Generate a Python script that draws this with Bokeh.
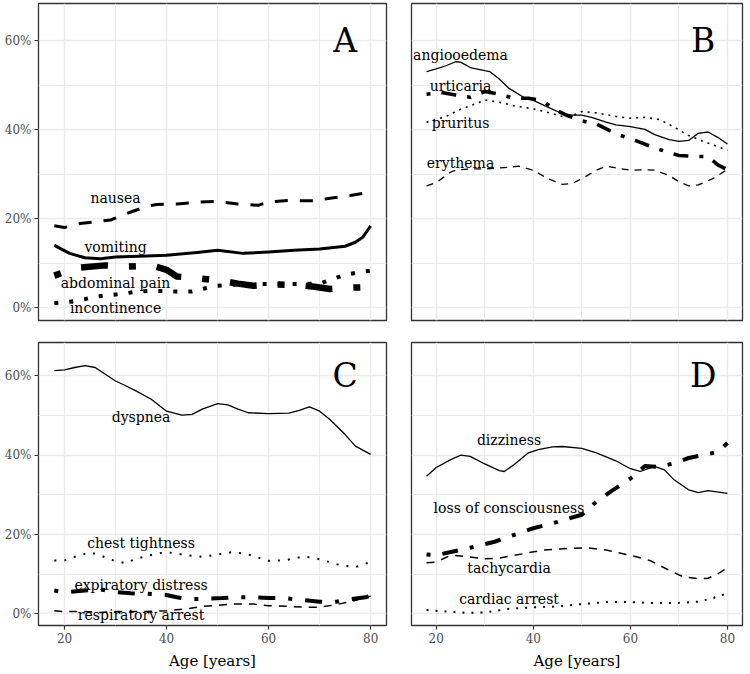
from bokeh.plotting import figure
from bokeh.layouts import gridplot
from bokeh.models import FixedTicker, Range1d
from bokeh.core.properties import value
from bokeh.embed import file_html
from bokeh.resources import INLINE

# ---------------- data ----------------
x_ticks = [20, 40, 60, 80]
x_minor = [10, 30, 50, 70, 90]
x_tick_labels = ["20", "40", "60", "80"]
y_ticks = [0, 20, 40, 60]
y_minor = [10, 30, 50]
y_tick_labels = ["0%", "20%", "40%", "60%"]
x_title = "Age [years]"
panel_letters = ["A", "B", "C", "D"]

# Panel A
nausea_age = [18, 20, 23, 26, 29, 31, 33, 36, 38, 42, 46, 50, 54, 58, 60, 64, 69, 72, 76, 79, 80]
nausea_pct = [18.4, 18.0, 18.9, 19.3, 19.7, 20.6, 21.5, 22.7, 23.2, 23.3, 23.7, 23.9, 23.3, 23.0, 23.8, 24.1, 24.0, 24.6, 25.2, 25.8, 26.6]
vomiting_age = [18, 21, 24, 27, 30, 36, 40, 46, 50, 55, 60, 65, 70, 75, 77, 78.5, 80]
vomiting_pct = [14.0, 12.2, 11.2, 11.0, 11.4, 11.6, 11.8, 12.4, 12.9, 12.2, 12.5, 12.9, 13.2, 13.8, 14.7, 15.9, 18.4]
abdominal_age = [18, 21, 23, 28, 32, 37, 40, 42, 46, 51, 54, 57, 61, 66, 69, 72, 76, 80]
abdominal_pct = [7.2, 8.4, 9.0, 9.5, 9.2, 9.5, 8.5, 7.0, 6.6, 6.0, 5.4, 4.9, 5.2, 5.1, 4.7, 4.2, 4.5, 4.6]
incontinence_age = [18, 21, 24, 26, 29, 32, 34, 37, 42, 45, 47, 50, 55, 60, 65, 70, 73, 75, 78, 80]
incontinence_pct = [1.0, 1.3, 1.9, 2.5, 2.8, 3.2, 3.6, 3.8, 3.6, 3.6, 4.2, 4.9, 5.3, 5.3, 5.3, 5.4, 6.6, 7.4, 8.0, 8.3]

# Panel B
angio_age = [18, 20, 22, 24, 25, 27, 30, 31, 33, 35, 38, 40, 43, 46, 48, 50, 52, 55, 57, 60, 63, 65, 68, 70, 72, 74, 76, 78, 80]
angio_pct = [53.1, 53.7, 54.4, 55.3, 55.2, 54.0, 53.3, 53.1, 51.4, 49.3, 47.3, 46.6, 45.1, 43.6, 43.3, 43.3, 42.8, 41.7, 41.1, 40.7, 40.1, 38.9, 37.8, 37.4, 37.6, 39.2, 39.5, 38.3, 36.8]
urticaria_age = [18, 21, 24, 27, 30, 33, 36, 39, 42, 44, 47, 50, 53, 57, 61, 65, 70, 74, 76, 78, 80]
urticaria_pct = [48.0, 48.4, 47.8, 47.3, 48.6, 48.0, 47.1, 47.1, 46.5, 44.8, 43.2, 42.0, 41.3, 39.1, 37.6, 35.9, 34.2, 34.0, 34.0, 32.1, 31.0]
pruritus_age = [18, 22, 25, 28, 30, 33, 36, 40, 43, 46, 48, 50, 53, 57, 60, 63, 66, 69, 72, 75, 80]
pruritus_pct = [41.7, 43.0, 44.6, 45.8, 46.7, 46.2, 45.4, 44.7, 43.9, 43.0, 43.2, 44.1, 43.8, 43.0, 42.6, 42.8, 42.3, 40.6, 38.7, 37.4, 35.4]
erythema_age = [18, 20, 23, 24, 27, 30, 33, 37, 40, 43, 46, 48, 50, 53, 55, 57, 60, 63, 65, 68, 70, 72, 74, 77, 80]
erythema_pct = [27.4, 28.1, 30.5, 30.9, 31.2, 31.2, 31.4, 31.8, 30.9, 29.0, 27.7, 27.9, 29.0, 30.9, 31.8, 31.4, 30.9, 31.0, 30.9, 29.7, 28.3, 27.4, 27.6, 29.0, 31.1]

# Panel C
dyspnea_age = [18, 20, 22, 24, 26, 28, 30, 32, 34, 37, 40, 43, 45, 47, 50, 52, 54, 56, 60, 64, 66, 68, 70, 72, 75, 77, 80]
dyspnea_pct = [61.3, 61.5, 62.1, 62.6, 62.1, 60.4, 58.7, 57.5, 56.2, 54.1, 51.1, 50.1, 50.3, 51.6, 53.0, 52.7, 51.6, 50.7, 50.5, 50.6, 51.3, 52.2, 51.1, 49.0, 45.2, 42.3, 40.2]
chest_age = [18, 20, 22, 25, 27, 29, 32, 34, 38, 40, 44, 47, 53, 56, 60, 63, 67, 70, 74, 77, 80]
chest_pct = [13.5, 13.5, 14.4, 15.5, 14.8, 13.7, 12.8, 13.9, 15.2, 15.6, 14.8, 14.4, 15.6, 15.0, 13.4, 13.5, 14.5, 13.8, 12.3, 11.8, 13.1]
expir_age = [18, 20, 24, 27, 30, 33, 36, 40, 42, 44, 47, 51, 53, 57, 60, 63, 66, 70, 73, 75, 79, 80]
expir_pct = [5.9, 5.5, 5.9, 6.2, 5.5, 5.2, 5.1, 4.8, 4.2, 3.8, 3.8, 4.0, 4.2, 4.2, 4.0, 4.0, 3.6, 3.1, 3.0, 3.6, 4.2, 4.6]
resp_age = [18, 20, 24, 27, 30, 34, 40, 44, 47, 53, 57, 60, 64, 68, 70, 73, 76, 80]
resp_pct = [0.8, 0.6, 0.6, 0.4, 0.6, 0.6, 0.8, 1.3, 1.9, 2.5, 2.5, 2.1, 1.9, 1.7, 1.7, 2.3, 3.1, 4.5]

# Panel D
dizzy_age = [18, 20, 23, 25, 27, 30, 33, 34, 36, 39, 41, 44, 46, 50, 53, 57, 60, 62, 65, 67, 69, 72, 74, 76, 80]
dizzy_pct = [34.7, 36.9, 38.9, 40.0, 39.7, 37.8, 36.1, 35.9, 37.6, 40.6, 41.4, 42.1, 42.2, 41.7, 40.6, 38.6, 36.6, 35.9, 37.2, 36.3, 33.8, 31.3, 30.6, 31.1, 30.4]
loc_age = [18, 20, 23, 27, 32, 36, 40, 45, 48, 50, 53, 56, 60, 63, 66, 69, 72, 78, 80]
loc_pct = [15.0, 14.8, 15.6, 16.7, 18.2, 19.9, 21.6, 23.2, 24.3, 25.0, 28.3, 30.9, 34.1, 37.3, 37.0, 38.0, 39.3, 40.8, 43.1]
tachy_age = [18, 20, 23, 26, 30, 33, 38, 42, 47, 51, 55, 60, 64, 68, 71, 74, 76, 78, 80]
tachy_pct = [12.9, 13.1, 14.8, 14.5, 13.9, 14.1, 15.2, 16.1, 16.5, 16.7, 16.1, 14.8, 13.5, 11.0, 9.3, 8.9, 9.0, 10.1, 11.6]
cardiac_age = [18, 20, 26, 30, 35, 40, 45, 50, 55, 60, 64, 70, 74, 77, 80]
cardiac_pct = [1.0, 0.8, 0.3, 0.4, 1.3, 1.7, 1.9, 2.5, 3.0, 3.0, 2.8, 2.8, 3.1, 4.0, 5.2]

# label texts and their (age, percent) anchors
labels_A = ["nausea", "vomiting", "abdominal pain", "incontinence"]
labels_A_x = [30, 30, 30, 30]
labels_A_y = [24.6, 13.6, 5.6, 0.0]
labels_B = ["angiooedema", "urticaria", "pruritus", "erythema"]
labels_B_x = [25, 25, 25, 25]
labels_B_y = [56.8, 49.8, 41.6, 32.6]
labels_C = ["dyspnea", "chest tightness", "expiratory distress", "respiratory arrest"]
labels_C_x = [35, 35, 35, 35]
labels_C_y = [49.6, 17.8, 7.4, -0.3]
labels_D = ["dizziness", "loss of consciousness", "tachycardia", "cardiac arrest"]
labels_D_x = [35, 35, 35, 35]
labels_D_y = [43.9, 26.6, 11.7, 3.8]
letter_x = 75
letter_y = 60

# ---------------- styling ----------------
SERIF = "DejaVu Serif"
X_RANGE = (14.9, 83.1)
Y_RANGE = (-2.9, 68.4)


def make_panel(series, lab_x, lab_y, lab_t, letter, show_x, show_y,
               fw, fh, bl, br, bt, bb):
    p = figure(frame_width=fw, frame_height=fh,
               x_range=Range1d(*X_RANGE), y_range=Range1d(*Y_RANGE),
               output_backend="svg", toolbar_location=None,
               x_axis_location="below" if show_x else None,
               y_axis_location="left" if show_y else None,
               min_border_left=bl, min_border_right=br,
               min_border_top=bt, min_border_bottom=bb)
    p.background_fill_color = "white"
    p.border_fill_color = "white"
    p.outline_line_color = "#333333"
    p.outline_line_width = 1.3

    p.xgrid.ticker = FixedTicker(ticks=x_ticks, minor_ticks=x_minor)
    p.ygrid.ticker = FixedTicker(ticks=y_ticks, minor_ticks=y_minor)
    for g in (p.xgrid, p.ygrid):
        g.grid_line_color = "#EBEBEB"
        g.grid_line_width = 1.5
        g.minor_grid_line_color = "#EBEBEB"
        g.minor_grid_line_width = 1.0

    axes = []
    if show_x:
        ax = p.xaxis[0]
        ax.ticker = FixedTicker(ticks=x_ticks)
        ax.major_label_overrides = {t: l for t, l in zip(x_ticks, x_tick_labels)}
        ax.axis_label = x_title
        ax.axis_label_text_font = SERIF
        ax.axis_label_text_font_size = "15px"
        ax.axis_label_text_font_style = "normal"
        ax.axis_label_text_color = "black"
        ax.axis_label_standoff = 6
        axes.append(ax)
    if show_y:
        ay = p.yaxis[0]
        ay.ticker = FixedTicker(ticks=y_ticks)
        ay.major_label_overrides = {t: l for t, l in zip(y_ticks, y_tick_labels)}
        axes.append(ay)
    for a in axes:
        a.axis_line_color = None
        a.major_tick_line_color = "#333333"
        a.major_tick_line_width = 1.2
        a.major_tick_out = 4
        a.major_tick_in = 0
        a.minor_tick_line_color = None
        a.major_label_text_font = SERIF
        a.major_label_text_font_size = "12px"
        a.major_label_text_color = "#4D4D4D"
        a.major_label_standoff = 3

    for ages, pcts, w, dash in series:
        p.line(ages, pcts, line_color="black", line_width=w, line_dash=dash,
               line_join="round", line_cap="butt")

    p.text(x=lab_x, y=lab_y, text=lab_t, text_font=value(SERIF),
           text_font_size="14px", text_color="black",
           text_align="center", text_baseline="middle")
    p.text(x=[letter_x], y=[letter_y], text=[letter], text_font=value(SERIF),
           text_font_size="33px", text_color="black",
           text_align="center", text_baseline="middle")
    return p


pA = make_panel([
    (nausea_age, nausea_pct, 3, "13 12"),
    (vomiting_age, vomiting_pct, 3, "solid"),
    (abdominal_age, abdominal_pct, 6.5, "7 21 27 21"),
    (incontinence_age, incontinence_pct, 4, "4 11"),
], labels_A_x, labels_A_y, labels_A, panel_letters[0], False, True,
    348, 317, 38, 12, 3, 10)

pB = make_panel([
    (angio_age, angio_pct, 1.3, "solid"),
    (urticaria_age, urticaria_pct, 3.6, "4 11 15 11"),
    (pruritus_age, pruritus_pct, 1.6, "2 5"),
    (erythema_age, erythema_pct, 1.3, "7 6"),
], labels_B_x, labels_B_y, labels_B, panel_letters[1], False, False,
    331, 317, 13, 2, 3, 10)

pC = make_panel([
    (dyspnea_age, dyspnea_pct, 1.3, "solid"),
    (chest_age, chest_pct, 2.0, "2 8"),
    (expir_age, expir_pct, 4, "4 13 17 13"),
    (resp_age, resp_pct, 1.5, "8 7"),
], labels_C_x, labels_C_y, labels_C, panel_letters[2], True, True,
    348, 283, 38, 12, 12, 46)

pD = make_panel([
    (dizzy_age, dizzy_pct, 1.3, "solid"),
    (loc_age, loc_pct, 4, "4 12 16 12"),
    (tachy_age, tachy_pct, 1.5, "8 7"),
    (cardiac_age, cardiac_pct, 2.0, "2 7"),
], labels_D_x, labels_D_y, labels_D, panel_letters[3], True, False,
    331, 283, 13, 2, 12, 46)

grid = gridplot([[pA, pB], [pC, pD]], toolbar_location=None)

open("out.html", "w").write(file_html(grid, INLINE))
